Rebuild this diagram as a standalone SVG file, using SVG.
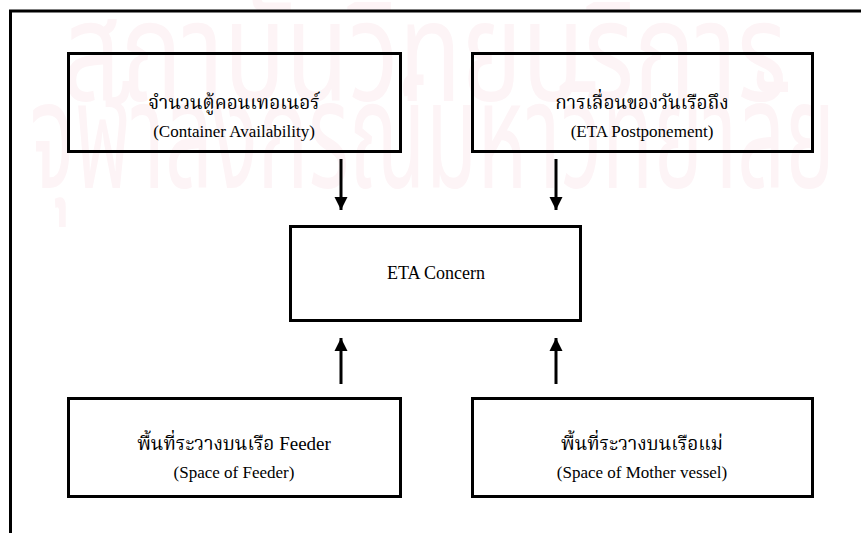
<svg xmlns="http://www.w3.org/2000/svg" width="861" height="534" viewBox="0 0 861 534">
  <style>
    .box { fill: none; stroke: #000; stroke-width: 3; }
    .frame { fill: none; stroke: #000; stroke-width: 3; }
    .th { font-family: "Liberation Serif", "Noto Serif Thai", "Noto Sans Thai", "Noto Sans", serif; font-size: 19px; fill: #000; text-anchor: middle; }
    .en { font-family: "Liberation Serif", "Times New Roman", serif; font-size: 17px; fill: #000; text-anchor: middle; }
    .wm { font-family: "Noto Sans Thai", "Noto Sans", "DejaVu Sans", sans-serif; font-size: 150px; fill: #fdf4f6; }
    .conn { stroke: #000; stroke-width: 3; fill: none; }
  </style>
  <defs>
    <marker id="head" viewBox="0 0 10 10" refX="10" refY="5" markerWidth="4.4" markerHeight="4.4" markerUnits="strokeWidth" orient="auto">
      <path d="M0,0 L10,5 L0,10 Z" fill="#000"/>
    </marker>
  </defs>
  <rect width="861" height="534" fill="#fff"/>

  <!-- background seal text -->
  <g id="seal">
    <text class="wm" x="62" y="101" style="font-size:140px" textLength="725" lengthAdjust="spacingAndGlyphs">สถาบันวิทยบริการ</text>
    <text class="wm" x="30" y="188" textLength="805" lengthAdjust="spacingAndGlyphs">จุฬาลงกรณ์มหาวิทยาลัย</text>
  </g>

  <!-- page frame -->
  <path class="frame" d="M10.5,533 L10.5,11 L861,11"/>

  <g id="container-availability">
    <rect class="box" x="68.5" y="53.5" width="332" height="98"/>
    <text class="th" x="234" y="109">จำนวนตู้คอนเทอเนอร์</text>
    <text class="en" x="234" y="137">(Container Availability)</text>
  </g>

  <g id="eta-postponement">
    <rect class="box" x="472.5" y="53.5" width="340" height="98"/>
    <text class="th" x="642" y="109">การเลื่อนของวันเรือถึง</text>
    <text class="en" x="642" y="137">(ETA Postponement)</text>
  </g>

  <g id="eta-concern">
    <rect class="box" x="290.5" y="226.5" width="290" height="94"/>
    <text class="en" x="436" y="279" style="font-size:18px">ETA Concern</text>
  </g>

  <g id="space-feeder">
    <rect class="box" x="68.5" y="398.5" width="332" height="98"/>
    <text class="th" x="234" y="450">พื้นที่ระวางบนเรือ Feeder</text>
    <text class="en" x="234" y="478">(Space of Feeder)</text>
  </g>

  <g id="space-mother">
    <rect class="box" x="472.5" y="398.5" width="340" height="98"/>
    <text class="th" x="642" y="450">พื้นที่ระวางบนเรือแม่</text>
    <text class="en" x="642" y="478">(Space of Mother vessel)</text>
  </g>

  <g id="connectors">
    <line class="conn" x1="341" y1="159" x2="341" y2="210" marker-end="url(#head)"/>
    <line class="conn" x1="556" y1="159" x2="556" y2="210" marker-end="url(#head)"/>
    <line class="conn" x1="341" y1="384" x2="341" y2="338" marker-end="url(#head)"/>
    <line class="conn" x1="556" y1="384" x2="556" y2="338" marker-end="url(#head)"/>
  </g>
</svg>
